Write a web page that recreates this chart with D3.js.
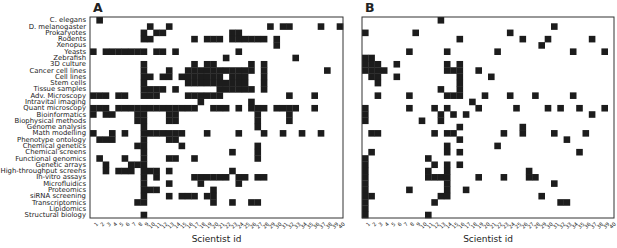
<!DOCTYPE html>
<html>
<head>
<meta charset="utf-8">
<script src="https://cdn.jsdelivr.net/npm/d3@7"></script>
<style>
  body { margin: 0; background: #fff; }
  text { font-family: "DejaVu Sans", sans-serif; fill: #222; }
</style>
</head>
<body>
<script>
// skills / model systems on the rows
const skills = ["C. elegans", "D. melanogaster", "Prokaryotes", "Rodents", "Xenopus", "Yeasts",
  "Zebrafish", "3D culture", "Cancer cell lines", "Cell lines", "Stem cells", "Tissue samples",
  "Adv. Microscopy", "Intravital imaging", "Quant microscopy", "Bioinformatics",
  "Biophysical methods", "Genome analysis", "Math modelling", "Phenotype ontology",
  "Chemical genetics", "Chemical screens", "Functional genomics", "Genetic arrays",
  "High-throughput screens", "In-vitro assays", "Microfluidics", "Proteomics",
  "siRNA screening", "Transcriptomics", "Lipidomics", "Structural biology"];

const scientists = d3.range(1, 41);

// scientist ids with a filled cell, one list per skill row (panel A)
const panelA = [
  [2],
  [10, 13, 29, 31, 32, 37, 40],
  [9, 11, 12, 23, 24],
  [9, 10, 17, 19, 20, 21, 23, 24, 25, 26, 27, 28, 30],
  [30],
  [1, 3, 4, 5, 6, 7, 8, 9, 11, 12, 14, 24],
  [22, 33],
  [9, 17, 19, 20, 26, 28],
  [9, 13, 16, 17, 18, 19, 20, 21, 22, 23, 24, 25, 26, 28, 38],
  [9, 10, 12, 13, 15, 16, 17, 18, 19, 20, 21, 23, 24, 25, 28],
  [9, 16, 17, 18, 19, 20, 21, 22, 23, 24, 25, 28],
  [9, 10, 11, 12, 14, 21, 22, 23, 24, 25, 26, 28],
  [1, 2, 3, 5, 6, 9, 10, 11, 16, 17, 18, 19, 20, 21, 32, 36],
  [18, 26],
  [1, 2, 3, 5, 6, 7, 8, 9, 10, 11, 12, 13, 14, 15, 16, 17, 20, 21, 22, 24, 26, 27, 28, 30, 31, 32, 33, 36],
  [1, 3, 4, 8, 9, 13, 14, 27, 32],
  [8, 9, 13, 14, 27, 32],
  [9, 27],
  [1, 4, 6, 9, 10, 11, 12, 13, 14, 15, 19, 24, 28, 31, 34, 37],
  [2, 3, 4, 9, 13, 14],
  [8, 9, 15, 27],
  [9, 23, 27],
  [2, 6, 9, 13, 14, 17, 27],
  [3, 7, 8, 9],
  [3, 5, 6, 7, 9, 10, 11, 13, 23],
  [9, 11, 17, 18, 19, 20, 21, 22, 24, 25, 27, 28],
  [9, 13, 18, 24],
  [9, 10, 11, 20],
  [9, 13, 15, 16, 17, 19, 20],
  [8, 9, 20, 23, 26, 27],
  [],
  [9]
];

// scientist ids with a filled cell, one list per skill row (panel B)
const panelB = [
  [13],
  [31],
  [1, 9, 24],
  [16, 26, 30, 37],
  [29],
  [8, 14, 22, 34, 39],
  [1, 2],
  [1, 2, 3, 6, 14, 16],
  [1, 2, 3, 4, 14, 15, 16, 19],
  [2, 3, 6, 16, 21],
  [3, 16],
  [13, 16],
  [3, 8, 14, 15, 16, 20, 24, 28, 34],
  [18],
  [1, 8, 12, 14, 19, 25, 30, 32, 35, 39],
  [1, 13, 15, 17, 37],
  [1, 10, 13],
  [16, 26],
  [2, 3, 12, 14, 15, 23, 26, 31, 36],
  [16, 33],
  [14, 22],
  [2, 14, 16, 35],
  [1, 11],
  [1, 12, 14, 16],
  [1, 11, 14, 27],
  [1, 11, 12, 13, 14, 19, 23, 27, 28],
  [1, 14, 31],
  [1, 8, 14, 17],
  [1, 2, 13, 14, 29],
  [1, 12, 32, 33],
  [1],
  [1, 11]
];

const W = 617, H = 248;
const gridTop = 17, gridBottom = 218;
const panels = [
  {label: "A", left: 90, right: 343, data: panelA},
  {label: "B", left: 362, right: 614, data: panelB}
];

const svg = d3.select("body").append("svg")
    .attr("width", W)
    .attr("height", H);

const y = d3.scaleBand()
    .domain(skills)
    .range([gridTop, gridBottom]);

panels.forEach((p, i) => {
  const x = d3.scaleBand()
      .domain(scientists)
      .range([p.left, p.right]);

  const g = svg.append("g");

  const cells = p.data.flatMap((ids, r) => ids.map(id => ({skill: skills[r], id})));

  g.selectAll("rect.cell")
    .data(cells)
    .join("rect")
      .attr("class", "cell")
      .attr("x", d => x(d.id))
      .attr("y", d => y(d.skill))
      .attr("width", x.bandwidth() + 0.3)
      .attr("height", y.bandwidth() + 0.3)
      .attr("fill", "#1c1c1c");

  g.append("rect")
      .attr("x", p.left)
      .attr("y", gridTop)
      .attr("width", p.right - p.left)
      .attr("height", gridBottom - gridTop)
      .attr("fill", "none")
      .attr("stroke", "#333")
      .attr("stroke-width", 1);

  g.append("g")
      .attr("transform", `translate(0,${gridBottom})`)
      .call(d3.axisBottom(x).tickSize(0).tickPadding(3))
      .call(a => a.select(".domain").remove())
      .call(a => a.selectAll("text")
          .attr("font-size", 5.2)
          .attr("text-anchor", "end")
          .attr("dy", "0.35em")
          .attr("transform", "translate(2,3) rotate(-45)"));

  g.append("text")
      .attr("x", (p.left + p.right) / 2)
      .attr("y", 242)
      .attr("text-anchor", "middle")
      .attr("font-size", 9)
      .text("Scientist id");

  g.append("text")
      .attr("x", p.left + 3)
      .attr("y", 12)
      .attr("font-size", 12.5)
      .attr("font-weight", "bold")
      .text(p.label);

  if (i === 0) {
    g.append("g")
        .attr("transform", `translate(${p.left},0)`)
        .call(d3.axisLeft(y).tickSize(0).tickPadding(4))
        .call(a => a.select(".domain").remove())
        .call(a => a.selectAll("text").attr("font-size", 6.9));
  }
});
</script>
</body>
</html>
